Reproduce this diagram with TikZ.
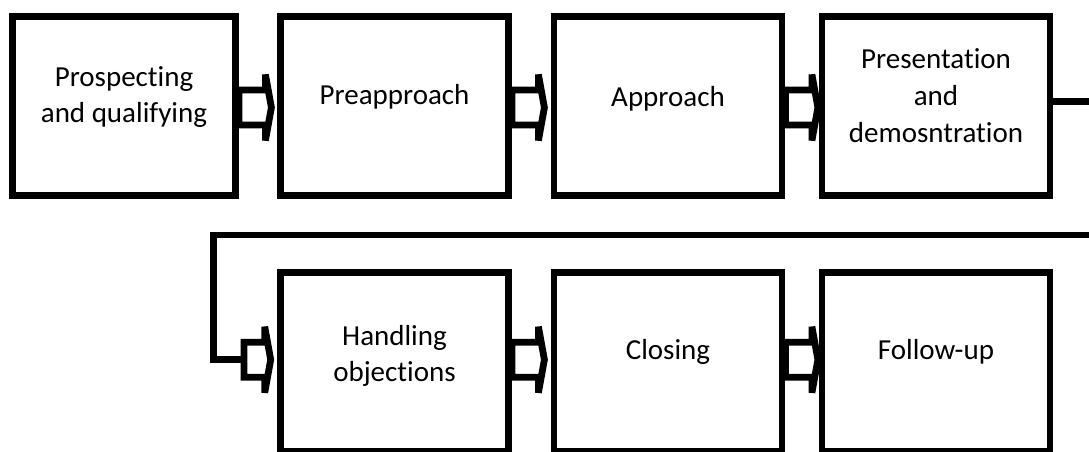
\documentclass[tikz,border=0pt]{standalone}
\usepackage{fontspec}
\setmainfont{Carlito}[Ligatures=NoCommon]
\usetikzlibrary{calc}
\tikzset{
  box/.style={draw=black, line width=6.8pt, fill=white, minimum width=228pt, minimum height=179pt, inner sep=0pt},
  lbl/.style={font=\fontsize{29}{36}\selectfont, align=center, anchor=base, inner sep=0pt, text=black},
  conn/.style={draw=black, line width=6.8pt},
  arrowline/.style={draw=black, line width=6.8pt, fill=white, line join=miter},
  pics/barr/.style={code={\draw[arrowline] (0,-17.5) -- (#1,-17.5) -- (#1,-33) -- ({#1+6},0) -- (#1,33) -- (#1,17.5) -- (0,17.5) -- cycle;}},
  pics/barr/.default=26.5
}
\begin{document}
\begin{tikzpicture}[x=1pt,y=-1pt]
\path[use as bounding box, clip] (0,0) rectangle (1089,451);
\fill[white] (0,0) rectangle (1089,451);
% boxes
\node[box, minimum width=223pt] (b1) at (124,106) {};
\node[box] (b2) at (394.5,106) {};
\node[box] (b3) at (668,106) {};
\node[box] (b4) at (936,106) {};
\node[box] (b5) at (394.5,362) {};
\node[box] (b6) at (668,362) {};
\node[box] (b7) at (936,362) {};
% texts
\node[lbl] (t1) at (124,122.7) {Prospecting\\and qualifying};
\node[lbl] (t2) at (394.5,104) {Preapproach};
\node[lbl] (t3) at (668,106) {Approach};
\node[lbl, font=\fontsize{29}{37}\selectfont] (t4) at (936,142) {Presentation\\and\\demosntration};
\node[lbl] (t5) at (394.5,381) {Handling\\objections};
\node[lbl] (t6) at (668,359.3) {Closing};
\node[lbl] (t7) at (936,359.3) {Follow-up};
% block arrows
\pic at ($(b1.east)+(0,1.5)$) {barr};
\pic at ($(b2.east)+(0,1.5)$) {barr};
\pic at ($(b3.east)+(0,1.5)$) {barr};
\pic at ($(b5.east)+(0,-2.3)$) {barr};
\pic at ($(b6.east)+(0,-2.3)$) {barr};
% loop connector
\coordinate (loopy) at (213.7,235);
\coordinate (a5in) at (244,359.7);
\draw[conn] ($(b4.east)+(0,-4.5)$) -- ++(60,0) |- (loopy) |- (a5in);
\pic at (a5in) {barr=20.7};
\end{tikzpicture}
\end{document}
